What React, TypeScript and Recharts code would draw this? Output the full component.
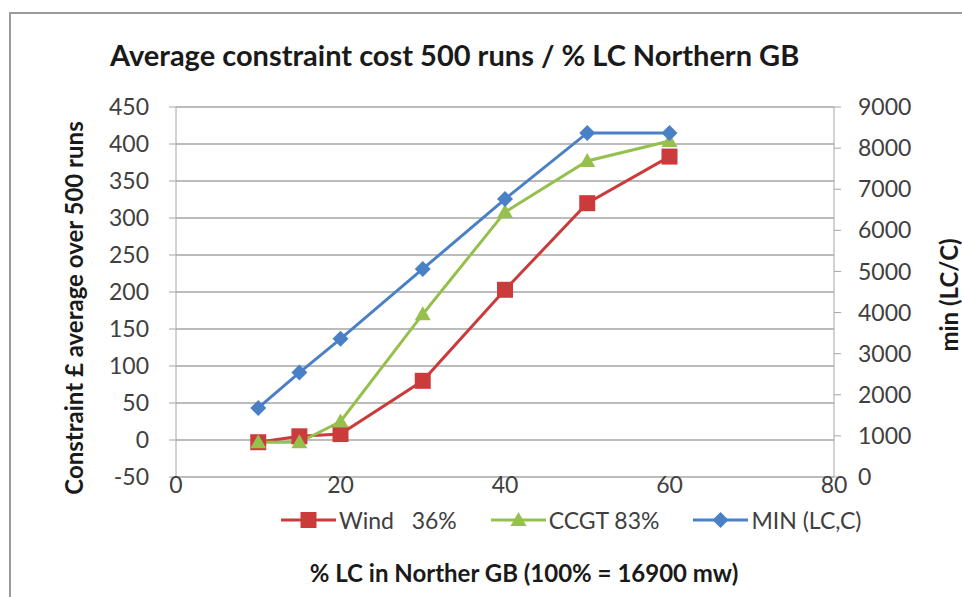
import { LineChart, Line, XAxis, YAxis, CartesianGrid } from 'recharts';

const xValues = [10, 15, 20, 30, 40, 50, 60];
const windValues = [-3, 5, 8, 80, 203, 320, 383];
const ccgtValues = [-3, -3, 25, 170, 308, 377, 404];
const minValues = [1680, 2540, 3360, 5060, 6760, 8370, 8370];

const xTicks = [0, 20, 40, 60, 80];
const leftTicks = [-50, 0, 50, 100, 150, 200, 250, 300, 350, 400, 450];
const rightTicks = [0, 1000, 2000, 3000, 4000, 5000, 6000, 7000, 8000, 9000];

const RED = '#cc3b3b';
const GREEN = '#96c04e';
const BLUE = '#4a80c6';
const FONT = 'Lato, "Open Sans", sans-serif';

const data = xValues.map((x, i) => ({
    x,
    wind: windValues[i],
    ccgt: ccgtValues[i],
    min: minValues[i],
}));

const Square = ({ cx, cy, size = 8 }: any) => (
    <rect x={cx - size} y={cy - size} width={size * 2} height={size * 2} fill={RED} />
);
const Triangle = ({ cx, cy, size = 8 }: any) => (
    <polygon points={`${cx},${cy - size} ${cx + size},${cy + size * 0.75} ${cx - size},${cy + size * 0.75}`} fill={GREEN} />
);
const Diamond = ({ cx, cy, size = 8 }: any) => (
    <polygon points={`${cx},${cy - size} ${cx + size},${cy} ${cx},${cy + size} ${cx - size},${cy}`} fill={BLUE} />
);

const series = [
    { key: 'wind', name: 'Wind   36%', color: RED, axis: 'left', Marker: Square },
    { key: 'ccgt', name: 'CCGT 83%', color: GREEN, axis: 'left', Marker: Triangle },
    { key: 'min', name: 'MIN (LC,C)', color: BLUE, axis: 'right', Marker: Diamond },
];

const tickStyle = { fill: '#404040', fontSize: 23, fontFamily: FONT };
const axisTitle = { position: 'absolute' as const, fontSize: 24, fontWeight: 700, color: '#1a1a1a', whiteSpace: 'nowrap' as const };

export default function App() {
    return (
        <div style={{ position: 'absolute', left: 0, top: 0, width: 962, height: 597, background: '#fff', overflow: 'hidden', fontFamily: FONT }}>
            <div style={{ position: 'absolute', left: 9, top: 12, width: 980, height: 620, borderLeft: '2px solid #9a9a9a', borderTop: '2px solid #9a9a9a' }} />
            <div style={{ position: 'absolute', left: 110, top: 37, fontSize: 29, fontWeight: 700, color: '#1a1a1a', whiteSpace: 'nowrap' }}>
                Average constraint cost 500 runs / % LC Northern GB
            </div>

            <LineChart width={962} height={597} data={data} margin={{ top: 107, right: 0, bottom: 90, left: 0 }}>
                <CartesianGrid vertical={false} yAxisId="left" stroke="#a6a6a6" strokeWidth={1.3} />
                <XAxis
                    dataKey="x"
                    type="number"
                    domain={[0, 80]}
                    ticks={xTicks}
                    height={30}
                    axisLine={false}
                    tickLine={false}
                    tickSize={0}
                    tickMargin={0}
                    tick={tickStyle}
                />
                <YAxis
                    yAxisId="left"
                    domain={[-50, 450]}
                    ticks={leftTicks}
                    width={176}
                    tickSize={7}
                    tickMargin={20}
                    stroke="#a6a6a6"
                    tick={tickStyle}
                />
                <YAxis
                    yAxisId="right"
                    orientation="right"
                    domain={[0, 9000]}
                    ticks={rightTicks}
                    width={128}
                    tickSize={7}
                    tickMargin={17}
                    stroke="#a6a6a6"
                    tick={tickStyle}
                />
                {series.map(s => (
                    <Line
                        key={s.key}
                        yAxisId={s.axis}
                        dataKey={s.key}
                        name={s.name}
                        type="linear"
                        stroke={s.color}
                        strokeWidth={3}
                        isAnimationActive={false}
                        dot={(p: any) => <s.Marker key={`${s.key}-${p.index}`} cx={p.cx} cy={p.cy} />}
                        activeDot={false}
                    />
                ))}
            </LineChart>

            {/* axis titles */}
            <div style={{ ...axisTitle, left: 73, top: 308, transform: 'translate(-50%, -50%) rotate(-90deg)' }}>
                Constraint £ average over 500 runs
            </div>
            <div style={{ ...axisTitle, left: 948, top: 295, transform: 'translate(-50%, -50%) rotate(-90deg)' }}>
                min (LC/C)
            </div>
            <div style={{ ...axisTitle, left: 524, top: 572, transform: 'translate(-50%, -50%)' }}>
                % LC in Norther GB (100% = 16900 mw)
            </div>

            {/* legend */}
            <div style={{ position: 'absolute', left: 281, top: 506, display: 'flex', gap: 34, alignItems: 'center' }}>
                {series.map(s => (
                    <div key={s.key} style={{ display: 'flex', alignItems: 'center' }}>
                        <svg width={55} height={24}>
                            <line x1={0} y1={12} x2={55} y2={12} stroke={s.color} strokeWidth={3} />
                            <s.Marker cx={27.5} cy={12} />
                        </svg>
                        <span style={{ fontSize: 23, color: '#404040', whiteSpace: 'pre', marginLeft: 3 }}>{s.name}</span>
                    </div>
                ))}
            </div>
        </div>
    );
}
